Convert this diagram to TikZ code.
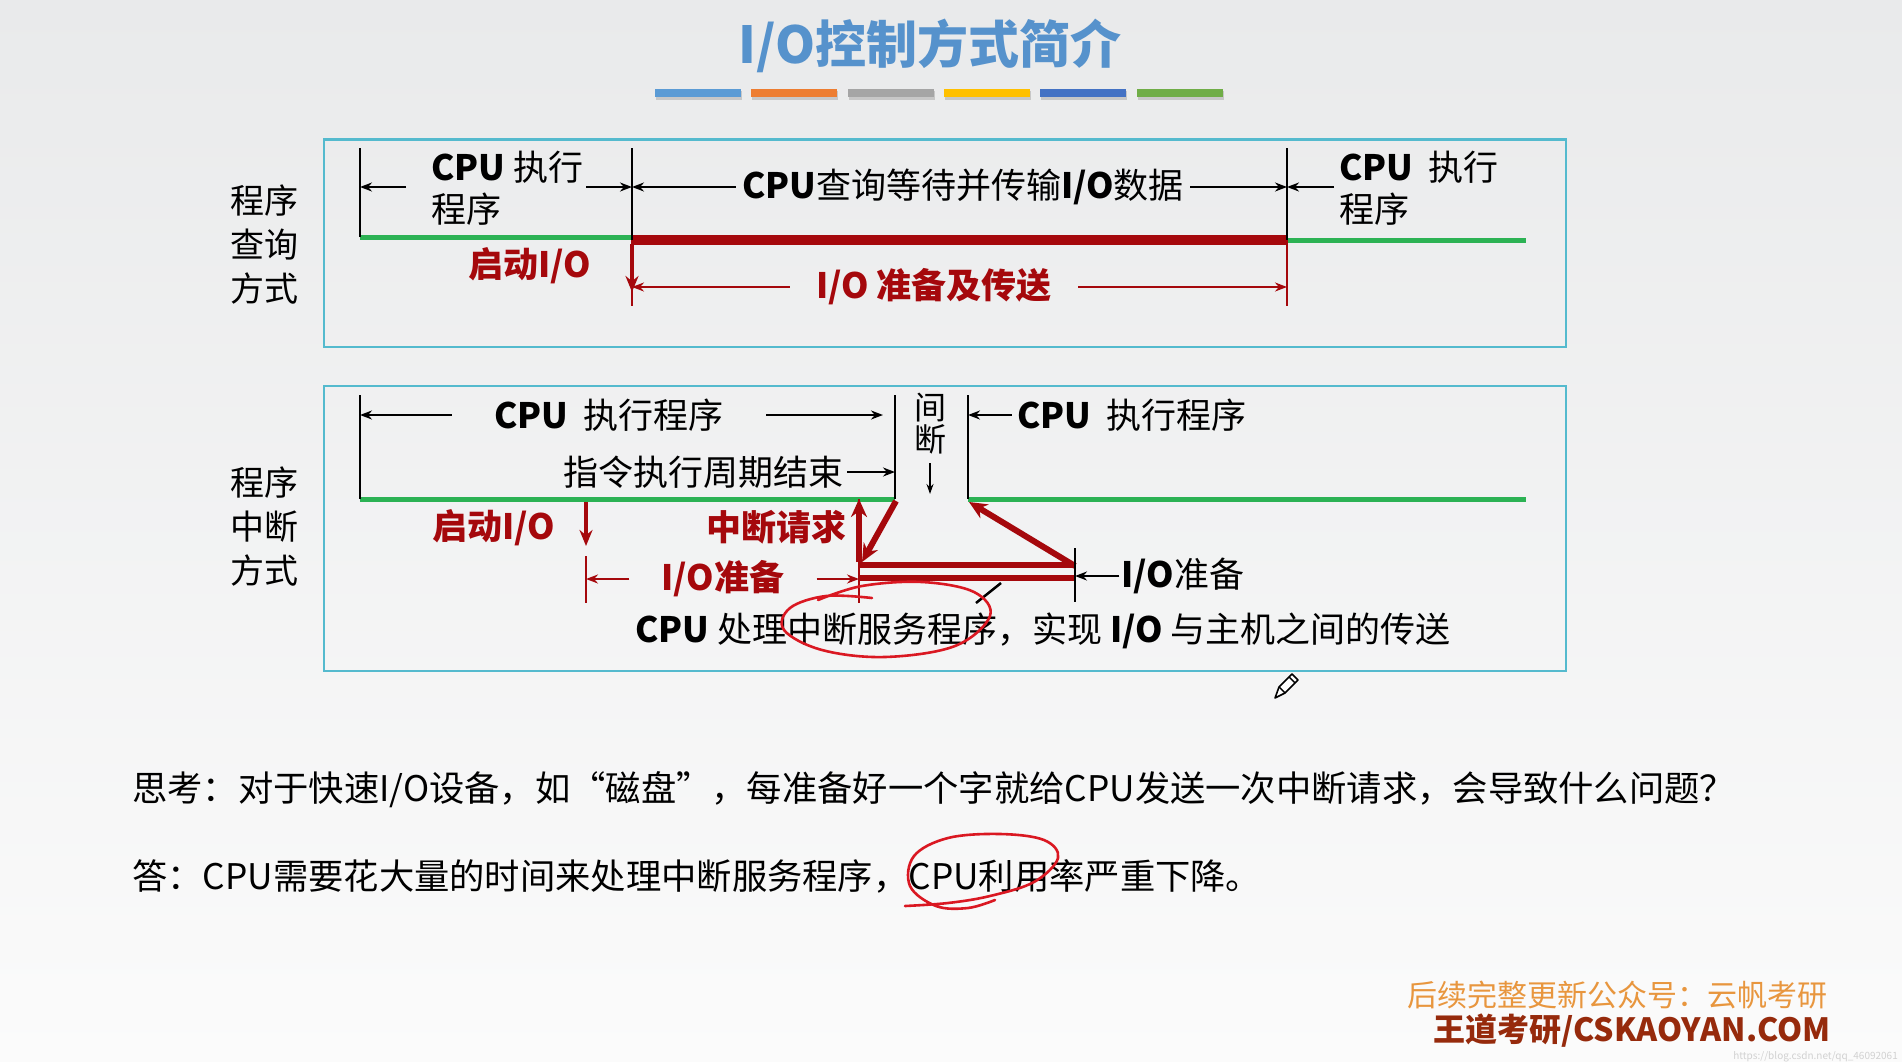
\documentclass[tikz,border=0pt]{standalone}
\usepackage{fontspec}
\setmainfont{Noto Sans CJK SC}
\usetikzlibrary{arrows.meta}
\definecolor{bgtop}{RGB}{233,234,235}
\definecolor{bgbot}{RGB}{251,251,251}
\definecolor{titleblue}{RGB}{86,146,204}
\definecolor{dred}{RGB}{165,8,12}
\definecolor{lgreen}{RGB}{44,178,84}
\definecolor{boxcyan}{RGB}{84,186,206}
\definecolor{inkred}{RGB}{218,24,34}
\definecolor{wmorange}{RGB}{232,150,62}
\definecolor{wmbrown}{RGB}{150,42,12}
\definecolor{barA}{RGB}{91,155,213}
\definecolor{barB}{RGB}{237,125,49}
\definecolor{barC}{RGB}{165,165,165}
\definecolor{barD}{RGB}{255,192,0}
\definecolor{barE}{RGB}{68,114,196}
\definecolor{barF}{RGB}{112,173,71}
\tikzset{
 lbl/.style={inner sep=3pt, font=\fontsize{35}{42}\selectfont},
 rlbl/.style={inner sep=3pt, text=dred, font=\fontsize{35}{42}\selectfont\bfseries},
 side/.style={align=center, font=\fontsize{34}{44}\selectfont, inner sep=0pt},
 tickl/.style={draw=black, line width=2.5pt},
 blk/.style={draw=black, line width=2.2pt, -{Stealth[length=12pt,width=9pt]}},
 rthin/.style={draw=dred, line width=2.5pt},
 rarr/.style={draw=dred, line width=2.5pt, -{Stealth[length=12pt,width=9pt]}},
 rthick/.style={draw=dred, line width=4.5pt, -{Stealth[length=16pt,width=13pt]}},
 rbig/.style={draw=dred, line width=6pt, -{Stealth[length=18pt,width=16pt]}},
 gline/.style={draw=lgreen, line width=5pt},
 boxframe/.style={draw=boxcyan, line width=2.2pt},
 ink/.style={draw=inkred, line width=2.6pt, line cap=round, line join=round},
 bodytext/.style={anchor=west, inner sep=0pt, font=\fontsize{35.3}{42}\selectfont},
}
\begin{document}
\begin{tikzpicture}[x=1pt,y=-1pt]
\useasboundingbox (0,0) rectangle (1902,1062);
\shade[top color=bgtop, bottom color=bgbot] (0,0) rectangle (1902,1062);

% title
\node[font=\fontsize{51}{60}\selectfont\bfseries, text=titleblue, inner sep=0pt] (title) at (930,46) {I/O控制方式简介};
\foreach \xa/\c in {655/barA,751/barB,848/barC,944/barD,1040/barE,1137/barF}{
  \fill[black!22] (\xa+1,91) rectangle (\xa+87,100);
  \fill[\c] (\xa,89) rectangle (\xa+86,97);
}

% frames
\draw[boxframe] (324,139.5) rectangle (1566,347);
\draw[boxframe] (324,386) rectangle (1566,671);

% side labels
\node[side] (s1) at (264,245) {程序\\查询\\方式};
\node[side] (s2) at (264,527) {程序\\中断\\方式};

% ===== box 1 =====
\coordinate (a0t) at (360,148); \coordinate (a0b) at (360,237);
\coordinate (a1t) at (632,148); \coordinate (a1b) at (632,240);
\coordinate (a2t) at (1287,148); \coordinate (a2b) at (1287,240);
\coordinate (a1r) at (632,306); \coordinate (a2r) at (1287,306);
\coordinate (a1d) at (632,292);
\coordinate (g1e) at (1526,240);
\coordinate (a1g) at (632,237);

\draw[gline] (a0b) -- (a1g);
\draw[draw=dred, line width=10pt] (a1b) -- (a2b);
\draw[gline] (a2b) -- (g1e);
\draw[rthin] (a1b) -- (a1r);
\draw[rthin] (a2b) -- (a2r);
\draw[rthick] ([yshift=-4pt]a1b) -- (a1d);
\draw[tickl] (a0t) -- (a0b);
\draw[tickl] (a1t) -- (a1b);
\draw[tickl] (a2t) -- (a2b);

\node[lbl, anchor=west, align=left, inner sep=0pt] (q1L) at (431,188) {{\bfseries CPU} 执行\\程序};
\coordinate (q1La) at (406,187); \coordinate (q1Lb) at (586,187);
\draw[blk] (q1La) -- (a0t |- q1La);
\draw[blk] (q1Lb) -- (a1t |- q1Lb);

\node[lbl, inner xsep=6pt] (q1M) at (963,187) {{\bfseries CPU}查询等待并传输{\bfseries I/O}数据};
\draw[blk] (q1M.west) -- (a1t |- q1M.west);
\draw[blk] (q1M.east) -- (a2t |- q1M.east);

\node[lbl, anchor=west, align=left, inner sep=0pt] (q1R) at (1339,188) {{\bfseries CPU}\ \ 执行\\程序};
\coordinate (q1Ra) at (1334,187);
\draw[blk] (q1Ra) -- (a2t |- q1Ra);

\node[rlbl] (st1) at (530,266) {启动I/O};
\node[rlbl, inner xsep=26pt] (q1T) at (934,287) {I/O 准备及传送};
\draw[rarr] (q1T.west) -- (a1r |- q1T.west);
\draw[rarr] (q1T.east) -- (a2r |- q1T.east);

% ===== box 2 =====
\coordinate (b0t) at (360,395); \coordinate (b0b) at (360,499);
\coordinate (b1t) at (895,395); \coordinate (b1b) at (895,499);
\coordinate (b2t) at (968,395); \coordinate (b2b) at (968,499);
\coordinate (g2e) at (1526,499);

\draw[gline] (b0b) -- (b1b);
\draw[gline] (b2b) -- (g2e);
\draw[tickl] (b0t) -- (b0b);
\draw[tickl] (b1t) -- (b1b);
\draw[tickl] (b2t) -- (b2b);

\node[lbl, inner xsep=42pt] (q2L) at (609,415) {{\bfseries CPU}\ \ 执行程序};
\coordinate (b1s) at (883,415);
\draw[blk] (q2L.west) -- (b0t |- q2L.west);
\draw[blk] (q2L.east) -- (b1s);

\node[align=center, inner sep=0pt, font=\fontsize{32}{32}\selectfont] (jd) at (930,424) {间\\断};
\coordinate (jda) at (930,463); \coordinate (jdb) at (930,494);
\draw[draw=black, line width=2pt, -{Stealth[length=10pt,width=7pt]}] (jda) -- (jdb);

\node[lbl, inner sep=5pt] (q2R) at (1132,415) {{\bfseries CPU}\ \ 执行程序};
\draw[blk] (q2R.west) -- (b2t |- q2R.west);

\node[lbl, inner sep=4pt] (zq) at (703,472) {指令执行周期结束};
\draw[blk] (zq.east) -- (b1t |- zq.east);

% red parts
\coordinate (c0t) at (586,502); \coordinate (c0d) at (586,546);
\coordinate (c0a) at (586,556); \coordinate (c0b) at (586,603);
\coordinate (c1t) at (859,499); \coordinate (c1b) at (859,603);
\coordinate (c1u) at (859,562);
\coordinate (c2a) at (859,565); \coordinate (c2b) at (1075,565);
\coordinate (c3a) at (859,578); \coordinate (c3b) at (1075,578);
\coordinate (c4t) at (1075,548); \coordinate (c4b) at (1075,602);
\coordinate (d1a) at (896,501); \coordinate (d1b) at (862,562);
\coordinate (d2a) at (1075,566); \coordinate (d2b) at (969,502);
\coordinate (pa) at (1001,583); \coordinate (pb) at (976,603);

\node[rlbl] (st2) at (494,528) {启动I/O};
\draw[rthick] (c0t) -- (c0d);
\draw[rthin] (c0a) -- (c0b);
\draw[rthin] (c1t) -- (c1b);
\draw[rbig] (c1u) -- (c1t);
\node[rlbl] (irq) at (776,527) {中断请求};
\node[rlbl, inner xsep=32pt] (p2) at (723,579) {I/O准备};
\draw[rarr] (p2.west) -- (c0a |- p2.west);
\draw[rarr] (p2.east) -- (c1t |- p2.east);
\draw[draw=dred, line width=6pt] (c2a) -- (c2b);
\draw[draw=dred, line width=6pt] (c3a) -- (c3b);
\draw[rbig] (d1a) -- (d1b);
\draw[rbig] (d2a) -- (d2b);
\draw[tickl] (c4t) -- (c4b);
\node[lbl, inner sep=2pt] (p3) at (1183,576) {{\bfseries I/O}准备};
\draw[blk] (p3.west) -- (c4t |- p3.west);
\draw[tickl] (pa) -- (pb);

\node[lbl, inner sep=0pt] (svc) at (1043,631) {{\bfseries CPU} 处理中断服务程序，实现 {\bfseries I/O} 与主机之间的传送};

% hand-drawn loop 1
\draw[ink] plot[smooth, tension=0.6] coordinates {(872,598) (826,596) (790,608) (784,630) (822,650) (885,657) (955,646) (990,616) (974,592) (922,582) (862,586) (818,600)};

% pencil cursor
\draw[line width=1.6pt, line join=round, fill=white] (1275,698) -- (1279,687) -- (1292,674) -- (1298,680) -- (1285,693) -- cycle;
\draw[line width=1.4pt] (1279,687) -- (1285,693);
\draw[line width=1.4pt] (1289,677) -- (1295,683);

% question and answer
\node[bodytext] (q) at (132,790) {思考：对于快速I/O设备，如“磁盘”，每准备好一个字就给CPU发送一次中断请求，会导致什么问题？};
\node[bodytext] (ans) at (132,876) {答：CPU需要花大量的时间来处理中断服务程序，CPU利用率严重下降。};

% hand-drawn loop 2
\draw[ink] plot[smooth, tension=0.6] coordinates {(905,906) (948,903) (990,896) (1034,882) (1058,858) (1044,840) (1000,834) (948,838) (914,856) (910,886) (936,906) (968,908) (995,900)};

% watermark
\node[font=\fontsize{30}{36}\selectfont, text=wmorange, inner sep=0pt] (wm1) at (1617,995) {后续完整更新公众号：云帆考研};
\node[font=\fontsize{32}{38}\selectfont\bfseries, text=wmbrown, inner sep=0pt] (wm2) at (1632,1031) {王道考研/CSKAOYAN.COM};
\node[font=\fontsize{10}{11}\selectfont, text=black!18, inner sep=0pt, anchor=east] (url) at (1898,1057) {https://blog.csdn.net/qq\_46092061};
\end{tikzpicture}
\end{document}
